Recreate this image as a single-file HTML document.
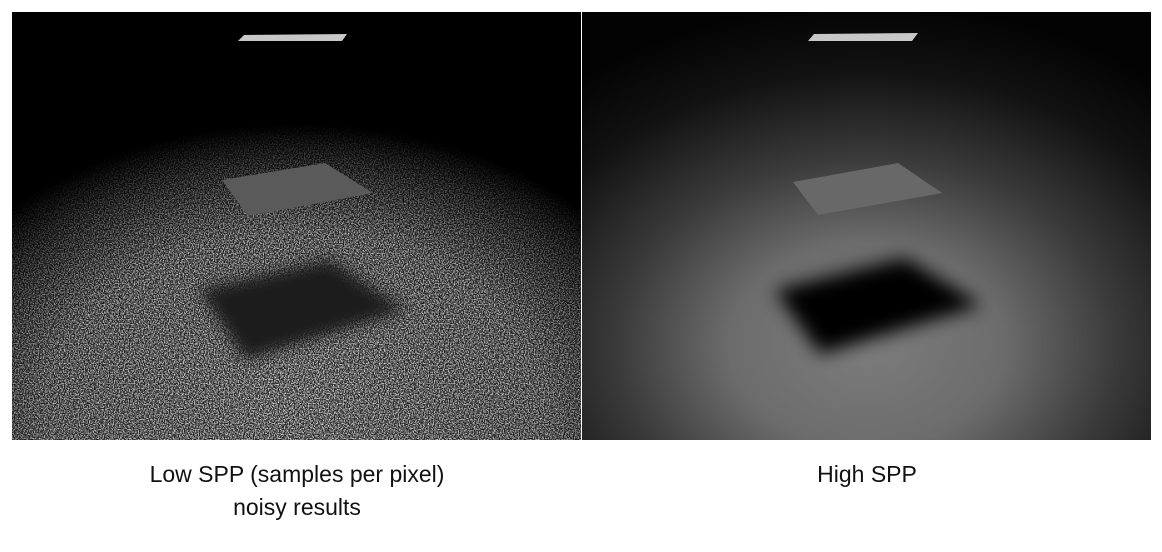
<!DOCTYPE html>
<html><head><meta charset="utf-8"><style>
html,body{margin:0;padding:0;background:#fff;width:1162px;height:552px;overflow:hidden;font-family:"Liberation Sans",sans-serif;}
.cap{position:absolute;font-size:23px;color:#111;text-align:center;line-height:33px;}
</style></head><body>
<svg style="position:absolute;left:12px;top:12px" width="569" height="428" viewBox="0 0 569 428">
<defs>
<filter id="nz" x="0" y="0" width="100%" height="100%">
<feTurbulence type="fractalNoise" baseFrequency="0.8" numOctaves="2" seed="3" result="t"/>
<feColorMatrix type="matrix" values="0 0 0 0 0.78  0 0 0 0 0.78  0 0 0 0 0.78  3 0 0 0 -1.15"/>
</filter>
<radialGradient id="lm" cx="0.5" cy="1.0" r="0.74" fx="0.5" fy="0.9">
<stop offset="0" stop-color="#fff" stop-opacity="1"/>
<stop offset="0.6" stop-color="#fff" stop-opacity="0.85"/>
<stop offset="0.85" stop-color="#fff" stop-opacity="0.35"/>
<stop offset="1" stop-color="#fff" stop-opacity="0"/>
</radialGradient>
<mask id="mk"><rect width="569" height="428" fill="url(#lm)"/></mask>
<filter id="bl"><feGaussianBlur stdDeviation="7"/></filter>
</defs>
<rect width="569" height="428" fill="#000"/>
<rect width="569" height="428" fill="#333" mask="url(#mk)" opacity="0.6"/>
<rect width="569" height="428" filter="url(#nz)" mask="url(#mk)"/>
<polygon points="188,278 318,248 393,298 233,348" fill="#1e1e1e" filter="url(#bl)"/>
<polygon points="210,168 313,151 361,181 236,204" fill="#5a5a5a"/>
<polygon points="232,23 335,22 330,29 226,29" fill="#c8c8c8"/>
</svg>
<svg style="position:absolute;left:582px;top:12px" width="569" height="428" viewBox="0 0 569 428">
<defs>
<radialGradient id="rg" cx="0.5" cy="0.78" r="0.8">
<stop offset="0" stop-color="#7c7c7c"/>
<stop offset="0.3" stop-color="#6c6c6c"/>
<stop offset="0.55" stop-color="#3a3a3a"/>
<stop offset="0.8" stop-color="#121212"/>
<stop offset="1" stop-color="#030303"/>
</radialGradient>
<filter id="bl2" x="-50%" y="-50%" width="200%" height="200%"><feGaussianBlur stdDeviation="9"/></filter>
</defs>
<rect width="569" height="428" fill="url(#rg)"/>
<polygon points="193,278 323,246 400,293 238,342" fill="#000" filter="url(#bl2)"/>
<polygon points="211,170 316,151 360,181 236,203" fill="#686868"/>
<polygon points="232,22 336,21 330,29 226,29" fill="#c8c8c8"/>
</svg>
<div class="cap" style="left:97px;top:458px;width:400px">Low SPP (samples per pixel)<br>noisy results</div>
<div class="cap" style="left:667px;top:458px;width:400px">High SPP</div>
</body></html>
